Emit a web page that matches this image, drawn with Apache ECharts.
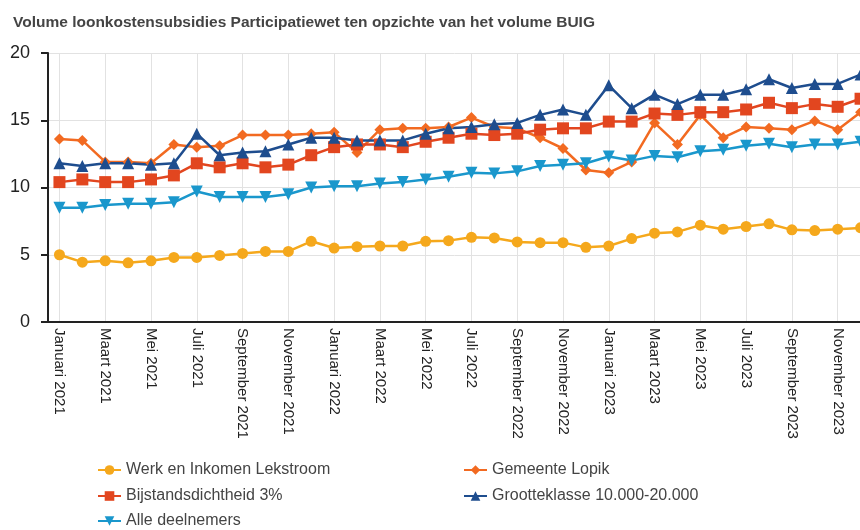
<!DOCTYPE html>
<html>
<head>
<meta charset="utf-8">
<script src="https://cdn.jsdelivr.net/npm/echarts@6/dist/echarts.min.js"></script>
<style>
  html, body { margin: 0; padding: 0; background: #fff; }
  #chart { width: 860px; height: 530px; }
</style>
</head>
<body>
<div id="chart"></div>
<script>
// maanden Jan 2021 t/m Dec 2023
const maanden = ['Januari', 'Februari', 'Maart', 'April', 'Mei', 'Juni', 'Juli', 'Augustus', 'September', 'Oktober', 'November', 'December'];
const jaren = [2021, 2022, 2023];
const categories = [];
jaren.forEach(j => maanden.forEach(m => categories.push(m + ' ' + j)));

const yTicks = [0, 5, 10, 15, 20];

// waarden
const werkLekstroom = [5.0, 4.45, 4.55, 4.4, 4.55, 4.8, 4.8, 4.95, 5.1, 5.25, 5.25, 6.0,
  5.5, 5.6, 5.65, 5.65, 6.0, 6.05, 6.3, 6.25, 5.95, 5.9, 5.9, 5.55,
  5.65, 6.2, 6.6, 6.7, 7.2, 6.9, 7.1, 7.3, 6.85, 6.8, 6.9, 7.0];
const gemeenteLopik = [13.6, 13.5, 11.9, 11.9, 11.8, 13.2, 13.0, 13.1, 13.9, 13.9, 13.9, 14.0,
  14.1, 12.6, 14.3, 14.4, 14.4, 14.5, 15.2, 14.5, 14.4, 13.7, 12.9, 11.3,
  11.1, 11.9, 14.8, 13.2, 15.4, 13.7, 14.5, 14.4, 14.3, 14.95, 14.3, 15.6];
const bijstand3 = [10.4, 10.6, 10.4, 10.4, 10.6, 10.9, 11.8, 11.5, 11.8, 11.5, 11.7, 12.4,
  13.0, 13.2, 13.2, 13.0, 13.4, 13.7, 14.0, 13.9, 14.0, 14.3, 14.4, 14.4,
  14.9, 14.9, 15.5, 15.4, 15.6, 15.6, 15.8, 16.3, 15.9, 16.2, 16.0, 16.6];
const grootteklasse = [11.8, 11.6, 11.8, 11.8, 11.7, 11.8, 14.0, 12.4, 12.6, 12.7, 13.2, 13.7,
  13.7, 13.5, 13.5, 13.5, 14.0, 14.4, 14.5, 14.7, 14.8, 15.4, 15.8, 15.4,
  17.6, 15.9, 16.9, 16.2, 16.9, 16.9, 17.3, 18.05, 17.4, 17.7, 17.7, 18.4];
const alleDeelnemers = [8.5, 8.5, 8.7, 8.8, 8.8, 8.9, 9.7, 9.3, 9.3, 9.3, 9.5, 10.0,
  10.1, 10.1, 10.3, 10.4, 10.6, 10.8, 11.1, 11.05, 11.2, 11.6, 11.7, 11.8,
  12.3, 12.0, 12.35, 12.25, 12.7, 12.8, 13.1, 13.25, 13.0, 13.2, 13.2, 13.4];

const chart = echarts.init(document.getElementById('chart'));

function lijn(naam, data, kleur, symbool, grootte) {
  return {
    name: naam,
    type: 'line',
    data: data,
    symbol: symbool,
    symbolSize: grootte,
    itemStyle: { color: kleur },
    lineStyle: { color: kleur, width: 2.5 },
    animation: false
  };
}

const tekst = { fontFamily: 'Liberation Sans, Arial, sans-serif' };

// één legenda-item per plek: twee kolommen, drie rijen
function legenda(naam, links, boven) {
  return {
    data: [naam], left: links, top: boven, padding: 0,
    itemWidth: 23, itemHeight: 12,
    textStyle: { fontSize: 16, color: '#444' }
  };
}

chart.setOption({
  backgroundColor: '#fff',
  textStyle: tekst,
  title: {
    text: 'Volume loonkostensubsidies Participatiewet ten opzichte van het volume BUIG',
    left: 8,
    top: 10,
    textStyle: { fontSize: 15.5, fontWeight: 'bold', color: '#444', fontFamily: tekst.fontFamily }
  },
  grid: { left: 48, top: 53, width: 824, height: 269, outerBoundsMode: 'none' },
  legend: [
    legenda('Werk en Inkomen Lekstroom', 97, 462),
    legenda('Bijstandsdichtheid 3%', 97, 488),
    legenda('Alle deelnemers', 97, 513),
    legenda('Gemeente Lopik', 463, 462),
    legenda('Grootteklasse 10.000-20.000', 463, 488)
  ],
  xAxis: {
    type: 'category',
    data: categories,
    boundaryGap: true,
    axisLine: { lineStyle: { color: '#222', width: 2 } },
    axisTick: { show: false },
    axisLabel: { rotate: -90, interval: 1, fontSize: 15, color: '#222', margin: 6 },
    splitLine: { show: true, interval: 1, alignWithLabel: true, lineStyle: { color: '#e2e2e2', width: 1 } }
  },
  yAxis: {
    type: 'value',
    min: yTicks[0],
    max: yTicks[yTicks.length - 1],
    interval: 5,
    axisLine: { show: true, lineStyle: { color: '#222', width: 2 } },
    axisTick: { show: true, length: 7, lineStyle: { color: '#222', width: 2 } },
    axisLabel: { fontSize: 18, color: '#222', margin: 18 },
    splitLine: { lineStyle: { color: '#e2e2e2', width: 1 } }
  },
  series: [
    lijn('Werk en Inkomen Lekstroom', werkLekstroom, '#f5a81c', 'circle', 11),
    lijn('Gemeente Lopik', gemeenteLopik, '#f26a21', 'diamond', 11),
    lijn('Bijstandsdichtheid 3%', bijstand3, '#e2461f', 'rect', 12),
    lijn('Grootteklasse 10.000-20.000', grootteklasse, '#1e4d8e', 'triangle', 12),
    lijn('Alle deelnemers', alleDeelnemers, '#1a97cc', 'path://M0,0 L10,0 L5,9 Z', 12)
  ]
});
</script>
</body>
</html>
